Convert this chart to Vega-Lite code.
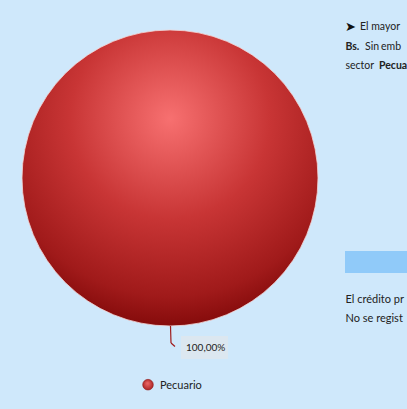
{
  "$schema": "https://vega.github.io/schema/vega-lite/v6.json",
  "width": 407,
  "height": 409,
  "autosize": {"type": "none"},
  "padding": 0,
  "background": "#cfe8fb",
  "config": {"view": {"stroke": null}, "font": "Lato"},
  "data": {"values": [{"sector": "Pecuario", "valor": 100, "etiqueta": "100,00%"}]},
  "encoding": {
    "x": {"type": "quantitative", "scale": {"domain": [0, 407], "range": [0, 407], "nice": false, "zero": false}, "axis": null},
    "y": {"type": "quantitative", "scale": {"domain": [0, 409], "range": [0, 409], "nice": false, "zero": false}, "axis": null}
  },
  "layer": [
    {
      "mark": {"type": "arc", "radius": 148, "stroke": "#f2d6d6", "strokeWidth": 0.8,
        "color": {"gradient": "radial", "x1": 0.5, "y1": 0.3, "r1": 0, "x2": 0.5, "y2": 0.3, "r2": 0.75,
          "stops": [{"offset": 0, "color": "#f77070"}, {"offset": 0.45, "color": "#c83535"}, {"offset": 0.8, "color": "#a01a1a"}, {"offset": 1, "color": "#780404"}]}},
      "encoding": {
        "theta": {"field": "valor", "type": "quantitative", "stack": true},
        "x": {"datum": 170},
        "y": {"datum": 178}
      }
    },
    {
      "mark": {"type": "rule", "color": "#a01c1c", "strokeWidth": 1.2},
      "encoding": {"x": {"datum": 170.5}, "y": {"datum": 326}, "x2": {"datum": 171}, "y2": {"datum": 343}}
    },
    {
      "mark": {"type": "rule", "color": "#a01c1c", "strokeWidth": 1.2},
      "encoding": {"x": {"datum": 171}, "y": {"datum": 343}, "x2": {"datum": 175}, "y2": {"datum": 346.5}}
    },
    {
      "mark": {"type": "rect", "color": "#dce7f0"},
      "encoding": {"x": {"datum": 181}, "x2": {"datum": 228}, "y": {"datum": 336}, "y2": {"datum": 359}}
    },
    {
      "mark": {"type": "text", "align": "left", "baseline": "middle", "fontSize": 10, "color": "#222222"},
      "encoding": {"x": {"datum": 186}, "y": {"datum": 348}, "text": {"field": "etiqueta"}}
    },
    {
      "mark": {"type": "point", "filled": true, "size": 115, "opacity": 1, "stroke": "#8b0f0f", "strokeWidth": 0.5,
        "color": {"gradient": "radial", "x1": 0.45, "y1": 0.35, "r1": 0, "x2": 0.5, "y2": 0.5, "r2": 0.6,
          "stops": [{"offset": 0, "color": "#f06a6a"}, {"offset": 1, "color": "#a01c1c"}]}},
      "encoding": {"x": {"datum": 148}, "y": {"datum": 384.7}}
    },
    {
      "mark": {"type": "text", "align": "left", "baseline": "middle", "fontSize": 11, "color": "#222222"},
      "encoding": {"x": {"datum": 160}, "y": {"datum": 385.5}, "text": {"field": "sector"}}
    },
    {
      "mark": {"type": "text", "align": "left", "baseline": "middle", "fontSize": 13, "color": "#111111"},
      "encoding": {"x": {"datum": 345}, "y": {"datum": 26.5}, "text": {"value": "➤"}}
    },
    {
      "mark": {"type": "text", "align": "left", "baseline": "middle", "fontSize": 10.5, "color": "#222222"},
      "encoding": {"x": {"datum": 360}, "y": {"datum": 26.5}, "text": {"value": "El mayor"}}
    },
    {
      "mark": {"type": "text", "align": "left", "baseline": "middle", "fontSize": 10.5, "fontWeight": "bold", "color": "#222222"},
      "encoding": {"x": {"datum": 345.5}, "y": {"datum": 46.5}, "text": {"value": "Bs."}}
    },
    {
      "mark": {"type": "text", "align": "left", "baseline": "middle", "fontSize": 10.5, "color": "#222222"},
      "encoding": {"x": {"datum": 365}, "y": {"datum": 46.5}, "text": {"value": "Sin"}}
    },
    {
      "mark": {"type": "text", "align": "left", "baseline": "middle", "fontSize": 10.5, "color": "#222222"},
      "encoding": {"x": {"datum": 381}, "y": {"datum": 46.5}, "text": {"value": "emb"}}
    },
    {
      "mark": {"type": "text", "align": "left", "baseline": "middle", "fontSize": 10.5, "color": "#222222"},
      "encoding": {"x": {"datum": 345.5}, "y": {"datum": 66}, "text": {"value": "sector"}}
    },
    {
      "mark": {"type": "text", "align": "left", "baseline": "middle", "fontSize": 10.5, "fontWeight": "bold", "color": "#222222"},
      "encoding": {"x": {"datum": 379}, "y": {"datum": 66}, "text": {"value": "Pecua"}}
    },
    {
      "mark": {"type": "rect", "color": "#90caf9"},
      "encoding": {"x": {"datum": 345}, "x2": {"datum": 407}, "y": {"datum": 251}, "y2": {"datum": 273}}
    },
    {
      "mark": {"type": "text", "align": "left", "baseline": "middle", "fontSize": 11, "color": "#222222"},
      "encoding": {"x": {"datum": 345.5}, "y": {"datum": 300}, "text": {"value": "El crédito pr"}}
    },
    {
      "mark": {"type": "text", "align": "left", "baseline": "middle", "fontSize": 11, "color": "#222222"},
      "encoding": {"x": {"datum": 345.5}, "y": {"datum": 319}, "text": {"value": "No se regist"}}
    }
  ]
}
